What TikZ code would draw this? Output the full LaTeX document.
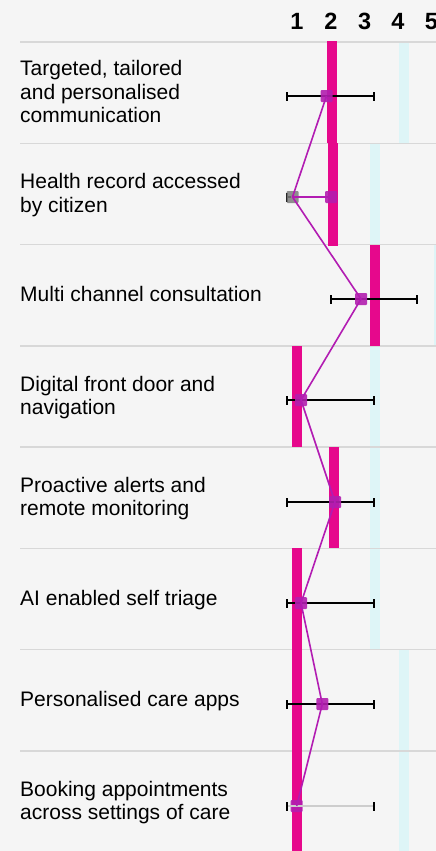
\documentclass[tikz,border=0pt]{standalone}
\usepackage{fontspec}
\setmainfont{Liberation Sans}
\definecolor{bg}{RGB}{245,245,245}
\definecolor{sepgray}{RGB}{216,216,216}
\definecolor{barmag}{RGB}{230,8,140}
\definecolor{barcyan}{RGB}{222,245,247}
\definecolor{mkpurple}{RGB}{178,30,175}
\definecolor{linepurple}{RGB}{178,28,178}
\definecolor{mkgray}{RGB}{125,125,125}
\definecolor{errgray}{RGB}{205,205,205}
\begin{document}
\begin{tikzpicture}[x=1pt,y=-1pt,
  sepline/.style={draw=sepgray,line width=1.5pt},
  medbar/.style={fill=barmag,draw=none},
  refbar/.style={fill=barcyan,draw=none},
  errline/.style={draw=black,line width=2pt},
  errlight/.style={draw=errgray,line width=2pt},
  errcap/.style={draw=black,line width=1.8pt},
  mkr/.style={rectangle,fill=mkpurple,fill opacity=0.9,draw=none,minimum size=12pt,inner sep=0pt,rounded corners=1pt},
  gmkr/.style={rectangle,fill=mkgray,fill opacity=0.85,draw=none,minimum size=12pt,inner sep=0pt,rounded corners=1pt},
  trend/.style={draw=linepurple,line width=1.6pt},
  lbl/.style={anchor=west,align=left,inner sep=0pt,font=\fontsize{21}{23.3}\selectfont},
  hdr/.style={inner sep=0pt,font=\fontsize{23.5}{24}\selectfont\bfseries}
]
\fill[bg] (0,0) rectangle (436,851);
\useasboundingbox (0,0) rectangle (436,851);

% header
\node[hdr] (h1) at (297,21.7) {1};
\node[hdr] (h2) at (331,21.7) {2};
\node[hdr] (h3) at (364.7,21.7) {3};
\node[hdr] (h4) at (398,21.7) {4};
\node[hdr] (h5) at (431.5,21.7) {5};

% reference (cyan) bars
\fill[refbar] (399,42) rectangle (409,143.3);
\fill[refbar] (370,143.3) rectangle (380,244.5);
\fill[refbar] (434,244.5) rectangle (444,345.8);
\fill[refbar] (370,345.8) rectangle (380,447);
\fill[refbar] (370,447) rectangle (380,548.3);
\fill[refbar] (370,548.3) rectangle (380,649.6);
\fill[refbar] (399,649.6) rectangle (409,750.9);
\fill[refbar] (399,750.9) rectangle (409,851);

% separators
\foreach \yy in {42,143.3,244.5,345.8,447,548.3,649.6,750.9}
  \draw[sepline] (20,\yy) -- (436,\yy);

% median (magenta) bars
\fill[medbar] (327.3,41.3) rectangle (337.3,143.3);
\fill[medbar] (328.3,143.3) rectangle (337.8,245.5);
\fill[medbar] (370,244.5) rectangle (380,345.8);
\fill[medbar] (292,345.8) rectangle (302,447);
\fill[medbar] (329,447) rectangle (339,548.3);
\fill[medbar] (292,548.3) rectangle (302,851);

% labels
\node[lbl] (l1) at (20,94.4) {\strut Targeted, tailored\\\strut and personalised\\\strut communication};
\node[lbl] (l2) at (20,195.7) {\strut Health record accessed\\\strut by citizen};
\node[lbl] (l3) at (20,297) {\strut Multi channel consultation};
\node[lbl] (l4) at (20,398.2) {\strut Digital front door and\\\strut navigation};
\node[lbl] (l5) at (20,499.5) {\strut Proactive alerts and\\\strut remote monitoring};
\node[lbl] (l6) at (20,600.8) {\strut AI enabled self triage};
\node[lbl] (l7) at (20,702) {\strut Personalised care apps};
\node[lbl] (l8) at (20,803.3) {\strut Booking appointments\\\strut across settings of care};

% error bar end points
\foreach \i/\yy/\xa/\xb in {1/96/287.3/374.3, 3/299/330.7/416.7, 4/400/287.3/374.3,
  5/502/287.3/374.3, 6/603/287.3/374.3, 7/704/287.3/374.3, 8/806/287.3/374.3}{
  \coordinate (e\i l) at (\xa,\yy);
  \coordinate (e\i r) at (\xb,\yy);
}
\coordinate (e2l) at (287,197);
\coordinate (e2r) at (291,197);

% error bars
\foreach \i in {1,3,4,5,6,7}{
  \draw[errline] (e\i l) -- (e\i r);
}
\draw[errline] (e2l) -- (e2r);
\foreach \i in {1,3,4,5,6,7,8}{
  \draw[errcap] ([yshift=-4.5pt]e\i l) -- ([yshift=4.5pt]e\i l);
  \draw[errcap] ([yshift=-4.5pt]e\i r) -- ([yshift=4.5pt]e\i r);
}
\draw[errcap] ([yshift=-4.5pt]e2l) -- ([yshift=4.5pt]e2l);

% markers
\node[mkr] (m1) at (326.5,96) {};
\node[gmkr] (g2) at (292.5,197) {};
\node[mkr] (m2) at (331,197) {};
\node[mkr] (m3) at (361,299) {};
\node[mkr] (m4) at (301,400) {};
\node[mkr] (m5) at (335,502) {};
\node[mkr] (m6) at (301,603) {};
\node[mkr] (m7) at (322.3,704) {};
\node[mkr] (m8) at (296.7,806) {};

% light error bar of last row (drawn over marker)
\draw[errlight] ([xshift=1pt]e8l) -- ([xshift=-1pt]e8r);

% trend line
\draw[trend] (m1.center) -- (g2.center) -- (m3.center) -- (m4.center) -- (m5.center)
  -- (m6.center) -- (m7.center) -- (m8.center);
\draw[trend] (g2.center) -- (m2.center);
\end{tikzpicture}
\end{document}
